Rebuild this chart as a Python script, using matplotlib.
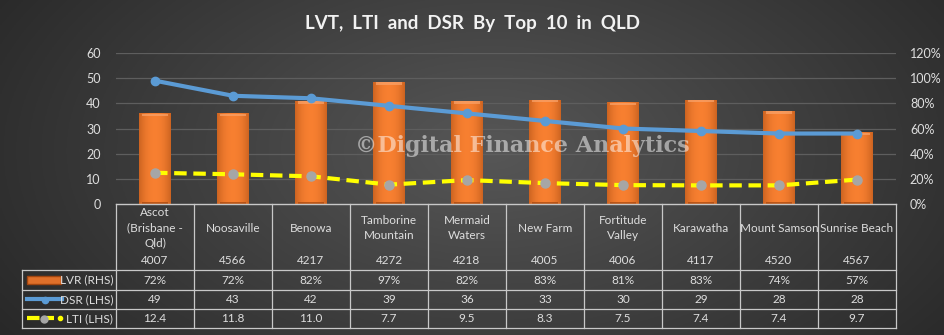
import matplotlib
matplotlib.use("Agg")
import matplotlib.pyplot as plt
import numpy as np
from matplotlib.lines import Line2D
from matplotlib.patches import Rectangle

suburbs = ["Ascot\n(Brisbane -\nQld)", "Noosaville", "Benowa", "Tamborine\nMountain",
           "Mermaid\nWaters", "New Farm", "Fortitude\nValley", "Karawatha",
           "Mount Samson", "Sunrise Beach"]
postcodes = ["4007", "4566", "4217", "4272", "4218", "4005", "4006", "4117", "4520", "4567"]
lvr = [72, 72, 82, 97, 82, 83, 81, 83, 74, 57]          # % (RHS)
dsr = [49, 43, 42, 39, 36, 33, 30, 29, 28, 28]          # LHS
lti = [12.4, 11.8, 11.0, 7.7, 9.5, 8.3, 7.5, 7.4, 7.4, 9.7]  # LHS

W, H = 945, 335
FONT = ["Lato", "DejaVu Sans"]
TXT = "#dedede"
FS = 8.5

fig = plt.figure(figsize=(W / 100, H / 100), dpi=100)

# dark radial-ish background
bg = fig.add_axes([0, 0, 1, 1], zorder=-10)
yy, xx = np.mgrid[0:1:200j, 0:1:400j]
r = np.sqrt(((xx - 0.52) / 0.75) ** 2 + ((yy - 0.45) / 1.2) ** 2)
shade = np.clip(0.34 - 0.22 * r, 0.11, 0.34)
bg.imshow(np.dstack([shade] * 3), aspect="auto", extent=(0, 1, 0, 1))
bg.axis("off")

def fx(px):
    return px / W

def fy(py):
    return 1 - py / H

x0, x1 = 116, 896
y_top, y_bot = 53, 204
ax = fig.add_axes([fx(x0), fy(y_bot), fx(x1 - x0), fy(y_top) - fy(y_bot)])
ax.patch.set_alpha(0)
ax2 = ax.twinx()
ax2.patch.set_alpha(0)

n = len(suburbs)
x = np.arange(n)

# LVR bars on right axis with a shaded bevel look
grad = np.linspace(0, 1, 64)
prof = 1 - 0.55 * np.abs(grad - 0.5) ** 2.2 * 4
orange = np.array([0.97, 0.50, 0.19])
dark = np.array([0.62, 0.27, 0.06])
cols = dark + (orange - dark) * np.clip(prof, 0, 1)[:, None]
img = np.repeat(cols[None, :, :], 2, axis=0)
bars = ax2.bar(x, lvr, width=0.41, color="#f07a30", zorder=2)
for b in bars:
    bx, bw, bh = b.get_x(), b.get_width(), b.get_height()
    im = ax2.imshow(img, extent=(bx, bx + bw, 0, bh), aspect="auto", zorder=3)
    im.set_clip_path(b)
    ax2.add_patch(Rectangle((bx + bw * 0.08, bh - 2.2), bw * 0.84, 1.8,
                            color="#f9a46c", alpha=0.7, zorder=4, lw=0))
    ax2.add_patch(Rectangle((bx + bw * 0.08, 0.3), bw * 0.84, 1.2,
                            color="#a3460f", alpha=0.7, zorder=4, lw=0))
ax2.set_ylim(0, 120)
ax2.set_yticks(range(0, 121, 20))
ax2.set_yticklabels([f"{v}%" for v in range(0, 121, 20)])

# lines on left axis, drawn above the bars
ax.set_zorder(ax2.get_zorder() + 1)
ax.plot(x, dsr, color="#5b9bd5", lw=3, marker="o", ms=6, zorder=5)
ax.plot(x, lti, color="#ffff00", lw=3, ls=(0, (3, 1.6)), zorder=5)
ax.plot(x, lti, ls="none", marker="o", ms=6.5, color="#a6a6a6", zorder=6)
ax.set_ylim(0, 60)
ax.set_yticks(range(0, 61, 10))
ax.set_xlim(-0.5, n - 0.5)
ax.set_xticks([])

ax.grid(False)
for v in range(10, 61, 10):
    ax2.axhline(v * 2, color="#5e5e5e", lw=0.9, zorder=0)

for a in (ax, ax2):
    for s in a.spines.values():
        s.set_visible(False)
    a.tick_params(length=0, colors=TXT, labelsize=9)
    for t in a.get_yticklabels():
        t.set_fontfamily(FONT)
ax.tick_params(axis="y", pad=11)
ax2.tick_params(axis="y", pad=10)

fig.text(0.5, fy(24), "LVT,  LTI  and  DSR  By  Top  10  in  QLD", ha="center", va="center",
         color="#f2f2f2", fontsize=13.5, fontweight="bold", family=FONT)

fig.text(fx(522), fy(146), "\u00a9Digital Finance Analytics", ha="center", va="center",
         color="white", alpha=0.5, fontsize=16, fontweight="bold",
         family=["DejaVu Serif"], zorder=20)

# data table underneath
tab = fig.add_axes([0, 0, 1, 1], zorder=5)
tab.set_xlim(0, W)
tab.set_ylim(H, 0)
tab.axis("off")
lc = "#c8c8c8"
colw = (x1 - x0) / n
rows = [204, 270, 290, 309, 328]
tab.plot([x0, x1], [204, 204], color=lc, lw=1)
for yv in rows[1:]:
    tab.plot([22, x1], [yv, yv], color=lc, lw=0.9)
for i in range(n + 1):
    tab.plot([x0 + i * colw] * 2, [204, 328], color=lc, lw=0.9)
tab.plot([22, 22], [270, 328], color=lc, lw=0.9)

for i in range(n):
    cx = x0 + (i + 0.5) * colw
    tab.text(cx, 228, suburbs[i], ha="center", va="center", color=TXT,
             fontsize=FS, family=FONT, linespacing=1.45)
    tab.text(cx, 261, postcodes[i], ha="center", va="center", color=TXT, fontsize=FS, family=FONT)
    tab.text(cx, 280, f"{lvr[i]}%", ha="center", va="center", color=TXT, fontsize=FS, family=FONT)
    tab.text(cx, 299.5, f"{dsr[i]}", ha="center", va="center", color=TXT, fontsize=FS, family=FONT)
    tab.text(cx, 318.5, f"{lti[i]:.1f}", ha="center", va="center", color=TXT, fontsize=FS, family=FONT)

# legend keys in the first column
tab.add_patch(Rectangle((27, 276), 34, 8, facecolor="#e0702a", edgecolor="#a04510", lw=1))
tab.add_line(Line2D([27, 62], [299, 299], color="#5b9bd5", lw=3))
tab.add_line(Line2D([44.5], [299.5], marker="o", ms=4.5, color="#5b9bd5"))
tab.add_line(Line2D([27, 54], [318, 318], color="#ffff00", lw=3, ls=(0, (3, 1.6))))
tab.add_line(Line2D([44], [318.5], marker="o", ms=5, color="#a6a6a6"))
tab.add_line(Line2D([60], [318], marker="o", ms=3, color="#ffff00"))
for yv, lab in zip([280, 299.5, 318.5], ["LVR (RHS)", "DSR (LHS)", "LTI (LHS)"]):
    tab.text(113, yv, lab, ha="right", va="center", color=TXT, fontsize=FS, family=FONT)

fig.savefig("out.png", dpi=100)
